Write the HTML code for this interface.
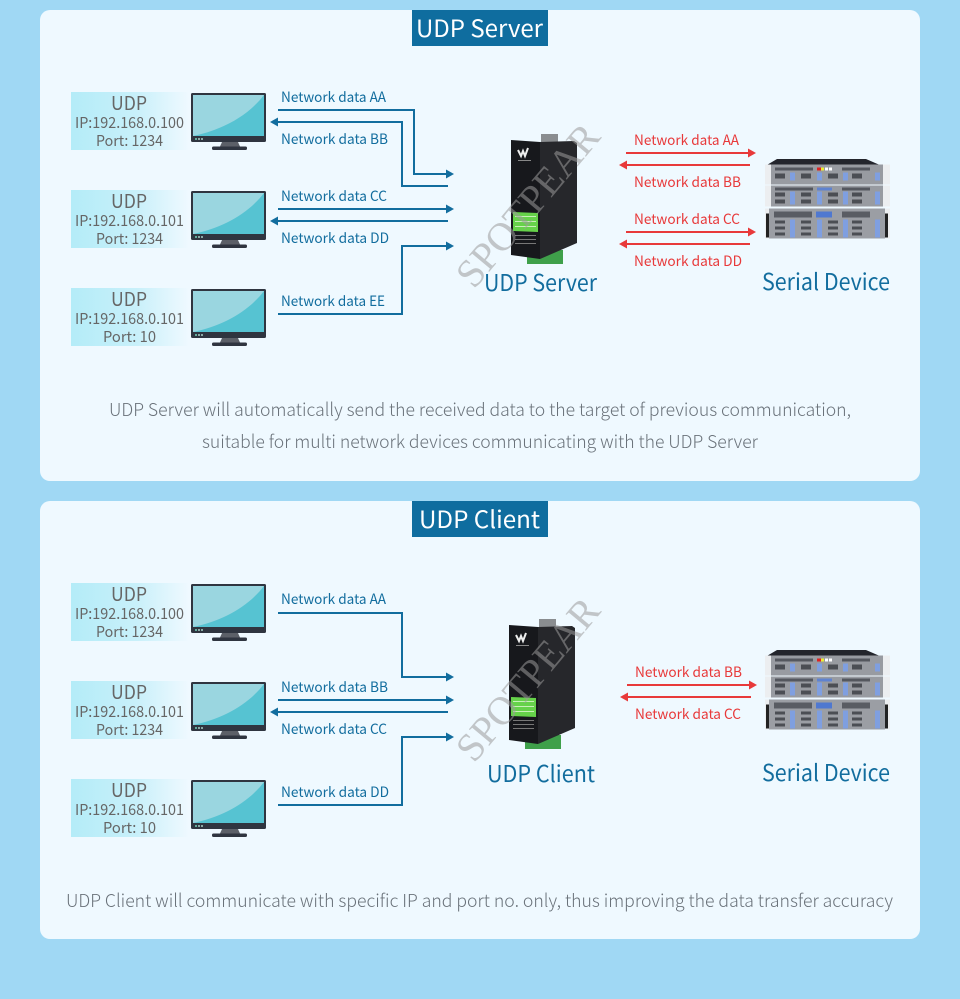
<!DOCTYPE html>
<html><head><meta charset="utf-8"><style>
html,body{margin:0;padding:0;background:#a0d8f4}
svg{display:block}
text{font-family:"Noto Sans CJK SC","Liberation Sans",sans-serif}
.b{fill:#126d9e;font-size:14px}
.r{fill:#e8393a;font-size:14px}
.h{fill:#fff;font-size:24px}
.big{fill:#126d9e;font-size:23px}
.u{fill:#666;font-size:19px;text-anchor:middle}
.s{fill:#666;font-size:15px;text-anchor:middle}
.p{fill:#6a727a;font-size:18px;font-weight:300}
.w{fill:#9a9a9a;fill-opacity:.55;font-family:"Liberation Serif",serif;font-size:40px}
.bl{fill:none;stroke:#126d9e;stroke-width:2}
.rl{fill:none;stroke:#e8393a;stroke-width:2}
</style></head><body>
<svg xmlns="http://www.w3.org/2000/svg" width="960" height="999" viewBox="0 0 960 999">
<defs>
<linearGradient id="lg" x1="0" x2="1" y1="0" y2="0"><stop offset="0" stop-color="#b4ecf8"/><stop offset=".55" stop-color="#c8f0fa"/><stop offset="1" stop-color="#eff9ff"/></linearGradient>
<g id="mon">
<rect x="71" y="0" width="118" height="58" fill="url(#lg)"/>
<rect x="191" y="1" width="75" height="49" rx="1.5" fill="#2f3540"/>
<rect x="193" y="3" width="71" height="41" fill="#56c3d2"/>
<path d="M193 3H264C248 24 222 38 193 44Z" fill="#9ad6e0"/>
<circle cx="196" cy="47" r=".9" fill="#8fd"/><circle cx="199" cy="47" r=".9" fill="#cfe"/><circle cx="202" cy="47" r=".9" fill="#cfe"/>
<path d="M222 50H238L240 54.500H220Z" fill="#5c6068"/>
<rect x="212" y="54.500" width="35" height="3.500" rx="1.500" fill="#2f3540"/>
</g>
<g id="rack">
<path d="M777 0.500H866L881 7H766Z" fill="#23252c"/>
<g id="r1"><rect x="765" y="6" width="125" height="20" fill="#eceef0"/><rect x="771" y="6" width="112" height="20" fill="#989ba1"/>
<rect x="775" y="9" width="38" height="3" fill="#54575e"/><rect x="842" y="9" width="28" height="3" fill="#54575e"/>
<g fill="#4b4e54"><rect x="775" y="15" width="10" height="5"/><rect x="801" y="15" width="10" height="5"/><rect x="828" y="15" width="10" height="5"/><rect x="852" y="15" width="10" height="5"/></g>
<g fill="#7f9fe0"><rect x="790" y="14" width="5" height="8"/><rect x="817" y="14" width="5" height="8"/><rect x="843" y="14" width="5" height="8"/><rect x="875" y="14" width="5" height="8"/></g>
<rect x="817" y="9" width="4" height="3" fill="#d22"/><rect x="821" y="9" width="3" height="3" fill="#ee3"/><rect x="825" y="9" width="3" height="3" fill="#fff"/><rect x="829" y="9" width="3" height="3" fill="#fff"/></g>
<g transform="translate(0,20)"><rect x="765" y="7" width="125" height="21" fill="#eceef0"/><rect x="771" y="7" width="112" height="21" fill="#989ba1"/>
<rect x="775" y="9" width="38" height="3" fill="#54575e"/><rect x="842" y="9" width="28" height="3" fill="#54575e"/><rect x="817" y="9" width="15" height="3" fill="#5f83d0"/>
<g fill="#4b4e54"><rect x="775" y="14" width="10" height="4"/><rect x="801" y="14" width="10" height="4"/><rect x="828" y="14" width="10" height="4"/><rect x="852" y="14" width="10" height="4"/><rect x="775" y="21" width="10" height="4"/><rect x="801" y="21" width="10" height="4"/><rect x="828" y="21" width="10" height="4"/><rect x="852" y="21" width="10" height="4"/></g>
<g fill="#7f9fe0"><rect x="790" y="13" width="5" height="13"/><rect x="817" y="13" width="5" height="13"/><rect x="843" y="13" width="5" height="13"/><rect x="875" y="13" width="5" height="13"/></g></g>
<g transform="translate(0,47)"><rect x="765" y="3" width="125" height="30" fill="#eceef0"/><rect x="769" y="3" width="116" height="30" fill="#9b9ea4"/>
<rect x="766" y="8" width="3" height="24" fill="#222"/><rect x="885" y="8" width="3" height="24" fill="#222"/>
<rect x="774" y="6" width="38" height="6" fill="#595c63"/><rect x="842" y="6" width="28" height="6" fill="#595c63"/><rect x="816" y="6" width="16" height="6" fill="#4f78d0"/>
<g fill="#4b4e54"><rect x="775" y="15" width="10" height="3"/><rect x="801" y="15" width="10" height="3"/><rect x="828" y="15" width="10" height="3"/><rect x="852" y="15" width="10" height="3"/><rect x="775" y="21" width="10" height="3"/><rect x="801" y="21" width="10" height="3"/><rect x="828" y="21" width="10" height="3"/><rect x="852" y="21" width="10" height="3"/><rect x="775" y="27" width="10" height="3"/><rect x="801" y="27" width="10" height="3"/><rect x="828" y="27" width="10" height="3"/><rect x="852" y="27" width="10" height="3"/></g>
<g fill="#7f9fe0"><rect x="790" y="14" width="5" height="18"/><rect x="817" y="14" width="5" height="18"/><rect x="843" y="14" width="5" height="18"/><rect x="875" y="14" width="5" height="18"/></g></g>
</g>
<g id="dev">
<rect x="527" y="250" width="36" height="14" fill="#3fa04a"/>
<rect x="541" y="134" width="17" height="8" fill="#8a8d90"/>
<path d="M540 142L574 141L577 143V243L540 259Z" fill="#26272b"/>
<path d="M511 140L540 142V259L511 255Z" fill="#17181c"/>
<path d="M513 212L538 213V232L513 231Z" fill="#66d24a"/>
<rect x="515" y="216" width="21" height="1" fill="#c8f0b8"/><rect x="515" y="221" width="21" height="1" fill="#c8f0b8"/><rect x="515" y="226" width="21" height="1" fill="#c8f0b8"/>
<rect x="515" y="235" width="21" height="1" fill="#777"/><rect x="515" y="239" width="21" height="1" fill="#777"/><rect x="515" y="243" width="21" height="1" fill="#777"/>
<path d="M518 150l3 6 2-5 2 5 3-8" fill="none" stroke="#eee" stroke-width="2"/>
<rect x="518" y="160" width="13" height="1" fill="#888"/>
</g>
</defs>

<rect width="960" height="999" fill="#a0d8f4"/>
<rect x="40" y="10" width="880" height="471" rx="10" fill="#eff9ff"/>
<rect x="40" y="501" width="880" height="438" rx="10" fill="#eff9ff"/>
<rect x="412" y="10" width="136" height="36" fill="#0f6d9f"/>
<rect x="412" y="501" width="136" height="36" fill="#0f6d9f"/>
<text class="h" x="416" y="37" textLength="127" lengthAdjust="spacingAndGlyphs">UDP Server</text>
<text class="h" x="419" y="528" textLength="121" lengthAdjust="spacingAndGlyphs">UDP Client</text>

<use href="#mon" y="92"/><use href="#mon" y="190"/><use href="#mon" y="288"/>
<use href="#mon" y="583"/><use href="#mon" y="681"/><use href="#mon" y="779"/>

<text class="u" x="129" y="110" textLength="36" lengthAdjust="spacingAndGlyphs">UDP</text><text class="s" x="129.500" y="128" textLength="109" lengthAdjust="spacingAndGlyphs">IP:192.168.0.100</text><text class="s" x="129.500" y="146" textLength="67" lengthAdjust="spacingAndGlyphs">Port: 1234</text>
<text class="u" x="129" y="208" textLength="36" lengthAdjust="spacingAndGlyphs">UDP</text><text class="s" x="129.500" y="226" textLength="109" lengthAdjust="spacingAndGlyphs">IP:192.168.0.101</text><text class="s" x="129.500" y="244" textLength="67" lengthAdjust="spacingAndGlyphs">Port: 1234</text>
<text class="u" x="129" y="306" textLength="36" lengthAdjust="spacingAndGlyphs">UDP</text><text class="s" x="129.500" y="324" textLength="109" lengthAdjust="spacingAndGlyphs">IP:192.168.0.101</text><text class="s" x="129.500" y="342" textLength="53" lengthAdjust="spacingAndGlyphs">Port: 10</text>
<text class="u" x="129" y="601" textLength="36" lengthAdjust="spacingAndGlyphs">UDP</text><text class="s" x="129.500" y="619" textLength="109" lengthAdjust="spacingAndGlyphs">IP:192.168.0.100</text><text class="s" x="129.500" y="637" textLength="67" lengthAdjust="spacingAndGlyphs">Port: 1234</text>
<text class="u" x="129" y="699" textLength="36" lengthAdjust="spacingAndGlyphs">UDP</text><text class="s" x="129.500" y="717" textLength="109" lengthAdjust="spacingAndGlyphs">IP:192.168.0.101</text><text class="s" x="129.500" y="735" textLength="67" lengthAdjust="spacingAndGlyphs">Port: 1234</text>
<text class="u" x="129" y="797" textLength="36" lengthAdjust="spacingAndGlyphs">UDP</text><text class="s" x="129.500" y="815" textLength="109" lengthAdjust="spacingAndGlyphs">IP:192.168.0.101</text><text class="s" x="129.500" y="833" textLength="53" lengthAdjust="spacingAndGlyphs">Port: 10</text>

<path class="bl" d="M278 110H414V174H447"/><path d="M446 169.500L454 174L446 178.500Z" fill="#126d9e"/>
<path class="bl" d="M277 122H402V186H448"/><path d="M278 117.500L270 122L278 126.500Z" fill="#126d9e"/>
<path class="bl" d="M278 209H447"/><path d="M446 204.500L454 209L446 213.500Z" fill="#126d9e"/>
<path class="bl" d="M277 221H448"/><path d="M278 216.500L270 221L278 225.500Z" fill="#126d9e"/>
<path class="bl" d="M278 314H402V246H447"/><path d="M446 241.500L454 246L446 250.500Z" fill="#126d9e"/>
<path class="bl" d="M278 613H402V677H447"/><path d="M446 672.500L454 677L446 681.500Z" fill="#126d9e"/>
<path class="bl" d="M278 700H447"/><path d="M446 695.500L454 700L446 704.500Z" fill="#126d9e"/>
<path class="bl" d="M277 712H448"/><path d="M278 707.500L270 712L278 716.500Z" fill="#126d9e"/>
<path class="bl" d="M278 805H402V737H447"/><path d="M446 732.500L454 737L446 741.500Z" fill="#126d9e"/>

<text class="b" x="281" y="102" textLength="105" lengthAdjust="spacingAndGlyphs">Network data AA</text>
<text class="b" x="281" y="144" textLength="107" lengthAdjust="spacingAndGlyphs">Network data BB</text>
<text class="b" x="281" y="201" textLength="106" lengthAdjust="spacingAndGlyphs">Network data CC</text>
<text class="b" x="281" y="243" textLength="108" lengthAdjust="spacingAndGlyphs">Network data DD</text>
<text class="b" x="281" y="306" textLength="104" lengthAdjust="spacingAndGlyphs">Network data EE</text>
<text class="b" x="281" y="604" textLength="105" lengthAdjust="spacingAndGlyphs">Network data AA</text>
<text class="b" x="281" y="692" textLength="107" lengthAdjust="spacingAndGlyphs">Network data BB</text>
<text class="b" x="281" y="734" textLength="106" lengthAdjust="spacingAndGlyphs">Network data CC</text>
<text class="b" x="281" y="797" textLength="108" lengthAdjust="spacingAndGlyphs">Network data DD</text>

<use href="#dev"/>
<use href="#dev" transform="translate(-2,485)"/>
<use href="#rack" y="158.500"/>
<use href="#rack" transform="translate(0,649.500)"/>

<path class="rl" d="M626 153H749"/><path d="M748 148.500L756 153L748 157.500Z" fill="#e8393a"/>
<path class="rl" d="M625 165H750"/><path d="M627 160.500L619 165L627 169.500Z" fill="#e8393a"/>
<path class="rl" d="M626 232H749"/><path d="M748 227.500L756 232L748 236.500Z" fill="#e8393a"/>
<path class="rl" d="M625 244H750"/><path d="M627 239.500L619 244L627 248.500Z" fill="#e8393a"/>
<path class="rl" d="M627 685H750"/><path d="M749 680.500L757 685L749 689.500Z" fill="#e8393a"/>
<path class="rl" d="M626 697H751"/><path d="M628 692.500L620 697L628 701.500Z" fill="#e8393a"/>

<text class="r" x="634" y="145" textLength="105" lengthAdjust="spacingAndGlyphs">Network data AA</text>
<text class="r" x="634" y="187" textLength="107" lengthAdjust="spacingAndGlyphs">Network data BB</text>
<text class="r" x="634" y="224" textLength="106" lengthAdjust="spacingAndGlyphs">Network data CC</text>
<text class="r" x="634" y="266" textLength="108" lengthAdjust="spacingAndGlyphs">Network data DD</text>
<text class="r" x="635" y="677" textLength="107" lengthAdjust="spacingAndGlyphs">Network data BB</text>
<text class="r" x="635" y="719" textLength="106" lengthAdjust="spacingAndGlyphs">Network data CC</text>

<text class="big" x="484" y="291" textLength="113" lengthAdjust="spacingAndGlyphs">UDP Server</text>
<text class="big" x="762" y="290" textLength="128" lengthAdjust="spacingAndGlyphs">Serial Device</text>
<text class="big" x="487" y="782" textLength="108" lengthAdjust="spacingAndGlyphs">UDP Client</text>
<text class="big" x="762" y="781" textLength="128" lengthAdjust="spacingAndGlyphs">Serial Device</text>

<text class="w" transform="translate(474,290) rotate(-50)" textLength="199" lengthAdjust="spacingAndGlyphs">SPOTPEAR</text>
<text class="w" transform="translate(474,764) rotate(-50)" textLength="199" lengthAdjust="spacingAndGlyphs">SPOTPEAR</text>

<text class="p" x="109" y="416" textLength="742" lengthAdjust="spacingAndGlyphs">UDP Server will automatically send the received data to the target of previous communication,</text>
<text class="p" x="202" y="448" textLength="556" lengthAdjust="spacingAndGlyphs">suitable for multi network devices communicating with the UDP Server</text>
<text class="p" x="66" y="907" textLength="827" lengthAdjust="spacingAndGlyphs">UDP Client will communicate with specific IP and port no. only, thus improving the data transfer accuracy</text>
</svg>
</body></html>
